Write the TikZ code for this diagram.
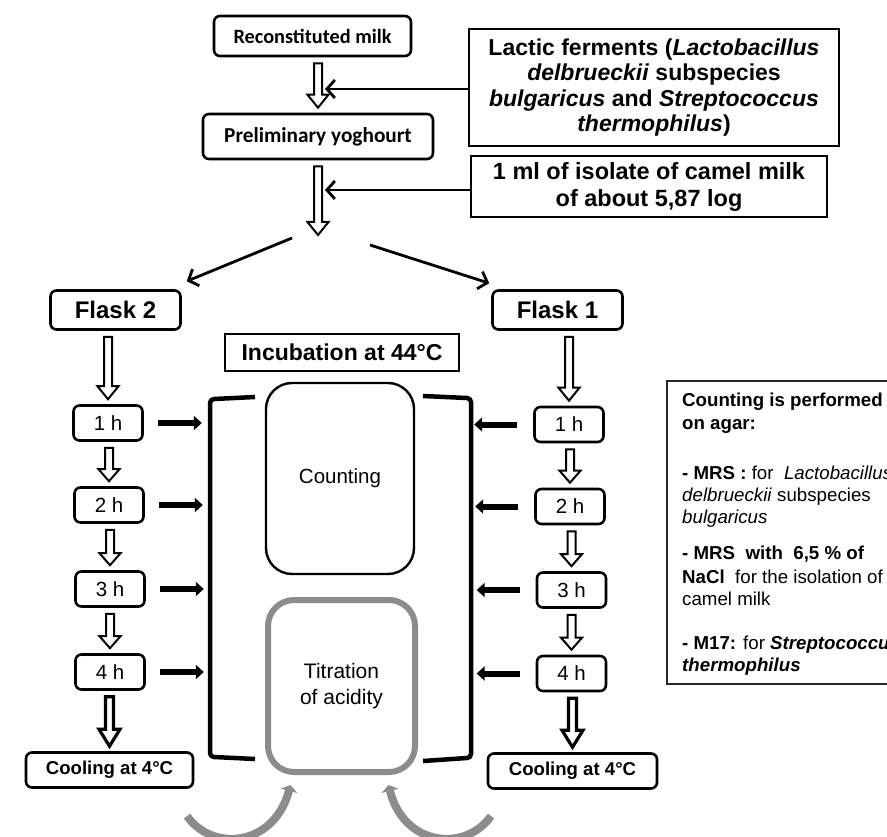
\documentclass[tikz,border=0pt]{standalone}
\usepackage{fontspec}
\setmainfont{Liberation Sans}
\newfontfamily\calib{Carlito}
\usetikzlibrary{calc,arrows.meta}
\definecolor{grayline}{HTML}{8C8C8C}
\newcommand\fs[2]{\fontsize{#1}{#2}\selectfont}
% hollow block arrow: #1 line width, #2 source anchor, #3 target anchor, #4 head length
\newcommand\harrow[4][2pt]{%
  \draw[line width=#1, fill=white, line join=miter]
    let \p1=(#2), \p2=(#3) in
    ({\x2-4pt},{\y1-6pt}) -- ({\x2-4pt},{\y2+5pt+#4}) -- ({\x2-10.5pt},{\y2+5pt+#4})
    -- (\x2,{\y2+5pt}) -- ({\x2+10.5pt},{\y2+5pt+#4}) -- ({\x2+4pt},{\y2+5pt+#4})
    -- ({\x2+4pt},{\y1-6pt}) -- cycle;}
\begin{document}
\begin{tikzpicture}[x=1pt,y=-1pt,
  rbox/.style={draw, line width=2.6pt, rounded corners=6pt, inner sep=0pt, align=center},
  sbox/.style={draw, line width=2.6pt, inner sep=0pt, align=center},
  thinarrow/.style={line width=2.8pt, -{Straight Barb[length=8pt,width=18pt]}},
  fatarrow/.style={line width=6pt, -{Triangle[length=8pt,width=14pt]}},
  hbox/.style={rbox, minimum width=69pt, minimum height=35pt, font=\fs{20.5}{24}},
  coolbox/.style={rbox, minimum width=167pt, minimum height=35pt, font=\bfseries\fs{18.6}{22}},
  flaskbox/.style={rbox, minimum width=130pt, minimum height=39pt, font=\bfseries\fs{24}{28}},
  infotxt/.style={anchor=base west, inner sep=0pt, font=\fs{18.7}{22}},
  bracket/.style={line width=4.5pt, line join=round},
  grayarrow/.style={grayline, line width=8pt, -{Triangle[length=6pt,width=17pt]}}]
\useasboundingbox (0,0) rectangle (887,837);
\clip (0,0) rectangle (887,837);

% top chain
\node[rbox, minimum width=197pt, minimum height=40pt, font=\calib\bfseries\fs{20.3}{24}] (recon) at (312.5,36) {Reconstituted milk};
\node[rbox, minimum width=230pt, minimum height=45pt, font=\calib\bfseries\fs{21.3}{25}] (prelim) at (318,136.5) {Preliminary yoghourt};
\node[sbox, minimum width=370pt, minimum height=117pt, font=\bfseries\fs{23}{25.5}] (lactic) at (654,87.5)
  {Lactic ferments (\textit{Lactobacillus}\\\textit{delbrueckii} subspecies\\\textit{bulgaricus} and \textit{Streptococcus}\\\textit{thermophilus})};
\node[sbox, minimum width=356pt, minimum height=61pt, font=\bfseries\fs{23.5}{27}] (isolate) at (649,186.5)
  {1 ml of isolate of camel milk\\of about 5,87 log};
\coordinate (split) at (318,240);

\harrow{recon.south}{prelim.north}{13pt}
\harrow{prelim.south}{split}{13pt}
\draw[thinarrow] ($(lactic.west)+(0,1.5)$) -- ($(lactic.west -| prelim.north)+(7,1.5)$);
\draw[thinarrow] ($(isolate.west)+(0,3.5)$) -- ($(isolate.west -| prelim.north)+(7,3.5)$);

% flasks
\node[flaskbox] (flask2) at (115.5,310) {Flask 2};
\node[flaskbox] (flask1) at (557.5,310) {Flask 1};
\coordinate (splitL) at (292,238);
\coordinate (splitR) at (370,245);
\draw[thinarrow] (splitL) -- ($(flask2.north east)+(5,-8)$);
\draw[thinarrow] (splitR) -- ($(flask1.north west)+(-2,-6)$);

% incubation
\node[sbox, minimum width=234pt, minimum height=37pt, font=\bfseries\fs{23}{27}] (incub) at (342,352.5) {Incubation at 44\textdegree C};
\node[draw, line width=2.4pt, rounded corners=26pt, minimum width=148pt, minimum height=191pt, inner sep=0pt, font=\fs{20.5}{24}] (counting) at (340,478.5) {Counting};
\node[draw=grayline, line width=6pt, rounded corners=26pt, minimum width=147pt, minimum height=172pt, inner sep=0pt, align=center, font=\fs{21}{26}] (titration) at (341.5,686) {Titration\\of acidity};

% brackets
\draw[bracket] (255,397) -- (214,399) to[out=180,in=90] (210,403) -- (210,753) to[out=-90,in=180] (214,757) -- (255,759);
\draw[bracket] (423,396) -- (467,398) to[out=0,in=90] (471,402) -- (471,754) to[out=-90,in=0] (467,758) -- (423,761);

% left column
\node[hbox] (h1l) at (108,423) {1 h};
\node[hbox] (h2l) at (109,505) {2 h};
\node[hbox] (h3l) at (110,589) {3 h};
\node[hbox] (h4l) at (110,672) {4 h};
\node[coolbox] (cooll) at (109.5,770) {Cooling at 4\textdegree C};
\harrow{flask2.south}{h1l.north}{13pt}
\harrow{h1l.south}{h2l.north}{12pt}
\harrow{h2l.south}{h3l.north}{12pt}
\harrow{h3l.south}{h4l.north}{12pt}
\harrow[3.2pt]{h4l.south}{cooll.north}{17pt}
\foreach \n in {h1l,h2l,h3l,h4l}
  \draw[fatarrow] ($(\n.east)+(14,0)$) -- ($(\n.east)+(58,0)$);

% right column
\node[hbox] (h1r) at (569,424.5) {1 h};
\node[hbox] (h2r) at (570,506.5) {2 h};
\node[hbox] (h3r) at (571.5,590) {3 h};
\node[hbox] (h4r) at (571.5,673.5) {4 h};
\node[coolbox, minimum width=169pt] (coolr) at (572.5,771) {Cooling at 4\textdegree C};
\harrow{flask1.south}{h1r.north}{13pt}
\harrow{h1r.south}{h2r.north}{12pt}
\harrow{h2r.south}{h3r.north}{12pt}
\harrow{h3r.south}{h4r.north}{12pt}
\harrow[3.2pt]{h4r.south}{coolr.north}{17pt}
\foreach \n in {h1r,h2r,h3r,h4r}
  \draw[fatarrow] ($(\n.west)+(-16,0)$) -- ($(\n.west)+(-59,0)$);

% info box
\node[draw=black!85, line width=1.5pt, minimum width=260pt, minimum height=303pt, anchor=north west, inner sep=0pt] (info) at (666,380) {};
\node[infotxt] (i1) at (682,406) {\textbf{Counting is performed}};
\node[infotxt] (i2) at (682,429) {\textbf{on agar:}};
\node[infotxt] (i3) at (682,479) {\textbf{- MRS :} for\ \ \textit{Lactobacillus}};
\node[infotxt] (i4) at (682,501) {\textit{delbrueckii} subspecies};
\node[infotxt] (i5) at (682,523) {\textit{bulgaricus}};
\node[infotxt] (i6) at (682,559) {\textbf{- MRS\ \ with\ \ 6,5 \% of}};
\node[infotxt] (i7) at (682,583) {\textbf{NaCl}\ \ for the isolation of};
\node[infotxt] (i8) at (682,605) {camel milk};
\node[infotxt] (i9) at (682,649) {\textbf{- M17:} for \textbf{\textit{Streptococcus}}};
\node[infotxt] (i10) at (682,671) {\textbf{\textit{thermophilus}}};

% gray curved arrows
\coordinate (arcLs) at (187,816);
\coordinate (arcRs) at (491,816);
\draw[grayarrow] (arcLs) .. controls (212,852) and (274,847) .. ($(titration.south)+(-51,10)$);
\draw[grayarrow] (arcRs) .. controls (466,852) and (404,847) .. ($(titration.south)+(47,10)$);
\end{tikzpicture}
\end{document}
